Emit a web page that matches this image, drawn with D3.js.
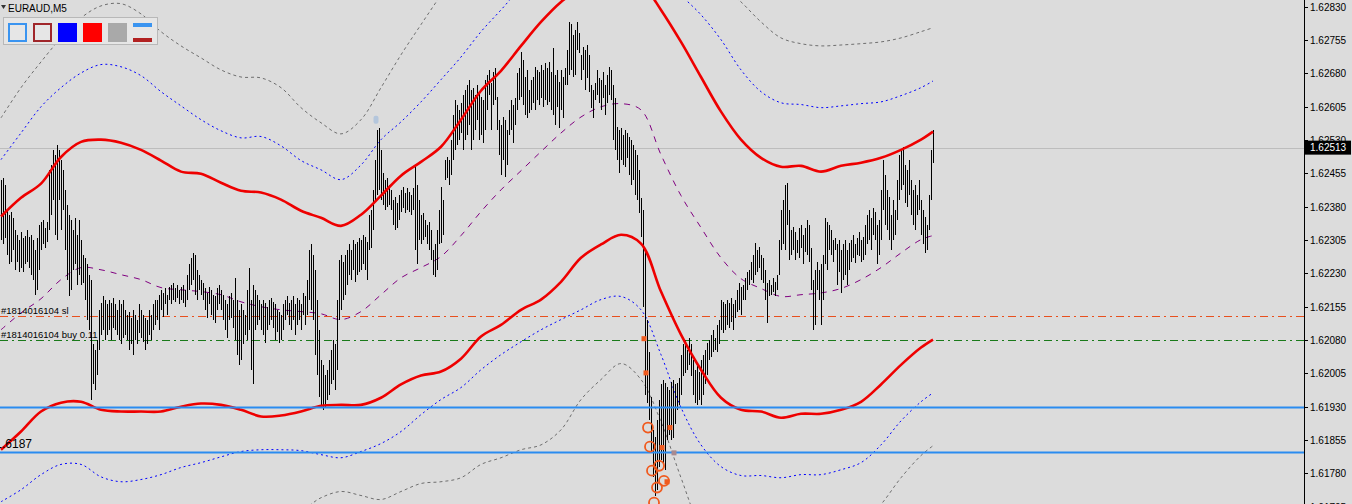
<!DOCTYPE html>
<html><head><meta charset="utf-8">
<script src="https://cdn.jsdelivr.net/npm/d3@7/dist/d3.min.js"></script>
<style>html,body{margin:0;padding:0;background:#dcdcdc;overflow:hidden}svg{display:block}</style>
</head><body><svg id="c" width="1352" height="504"></svg>
<script>
const symbolLabel = "EURAUD,M5";
const tickLabels = ["1.62830","1.62755","1.62680","1.62605","1.62530","1.62455","1.62380","1.62305","1.62230","1.62155","1.62080","1.62005","1.61930","1.61855","1.61780","1.61705"];
const currentPrice = 1.62513;

const HIGH = [
1.62441,1.62445,1.62430,1.62373,1.62362,1.62369,1.62355,1.62328,1.62317,1.62306,1.62324,1.62310,1.62315,1.62328,1.62312,1.62317,1.62306,1.62283,1.62310,1.62340,
1.62346,1.62351,1.62333,1.62346,1.62463,1.62474,1.62508,1.62497,1.62520,1.62508,1.62486,1.62463,1.62418,1.62384,1.62362,1.62351,1.62328,1.62355,1.62317,1.62351,
1.62306,1.62272,1.62265,1.62250,1.62227,1.62216,1.62070,1.62058,1.62081,1.62148,1.62164,1.62178,1.62171,1.62160,1.62171,1.62164,1.62175,1.62160,1.62148,1.62171,
1.62160,1.62171,1.62148,1.62137,1.62144,1.62130,1.62148,1.62137,1.62126,1.62160,1.62148,1.62137,1.62130,1.62126,1.62148,1.62137,1.62160,1.62171,1.62171,1.62182,
1.62193,1.62186,1.62198,1.62182,1.62200,1.62204,1.62209,1.62198,1.62204,1.62193,1.62200,1.62204,1.62193,1.62227,1.62250,1.62265,1.62276,1.62272,1.62238,1.62227,
1.62216,1.62209,1.62198,1.62186,1.62200,1.62193,1.62182,1.62178,1.62198,1.62204,1.62193,1.62182,1.62171,1.62160,1.62178,1.62186,1.62171,1.62220,1.62171,1.62148,
1.62160,1.62148,1.62137,1.62193,1.62243,1.62171,1.62204,1.62193,1.62182,1.62171,1.62160,1.62171,1.62164,1.62155,1.62171,1.62175,1.62166,1.62160,1.62148,1.62142,
1.62137,1.62160,1.62171,1.62178,1.62164,1.62171,1.62178,1.62160,1.62175,1.62171,1.62160,1.62186,1.62178,1.62216,1.62283,1.62295,1.62272,1.62238,1.62171,1.62103,
1.62036,1.62024,1.62002,1.62013,1.62036,1.62058,1.62081,1.62070,1.62171,1.62261,1.62272,1.62256,1.62272,1.62283,1.62295,1.62283,1.62306,1.62295,1.62301,1.62310,
1.62306,1.62317,1.62312,1.62301,1.62362,1.62373,1.62418,1.62486,1.62553,1.62558,1.62508,1.62456,1.62441,1.62445,1.62430,1.62418,1.62396,1.62402,1.62389,1.62407,
1.62418,1.62425,1.62412,1.62423,1.62414,1.62407,1.62423,1.62474,1.62430,1.62396,1.62362,1.62366,1.62351,1.62340,1.62346,1.62328,1.62283,1.62295,1.62328,1.62373,
1.62425,1.62396,1.62486,1.62492,1.62486,1.62531,1.62587,1.62621,1.62610,1.62598,1.62614,1.62632,1.62643,1.62654,1.62666,1.62643,1.62648,1.62632,1.62654,1.62639,
1.62627,1.62621,1.62666,1.62677,1.62688,1.62659,1.62684,1.62693,1.62627,1.62576,1.62564,1.62582,1.62576,1.62553,1.62598,1.62621,1.62610,1.62625,1.62681,1.62693,
1.62729,1.62711,1.62672,1.62688,1.62643,1.62666,1.62672,1.62695,1.62688,1.62684,1.62700,1.62688,1.62704,1.62693,1.62706,1.62684,1.62738,1.62677,1.62688,1.62661,
1.62688,1.62672,1.62693,1.62733,1.62796,1.62792,1.62767,1.62778,1.62796,1.62771,1.62722,1.62740,1.62733,1.62744,1.62722,1.62654,1.62643,1.62659,1.62688,1.62670,
1.62666,1.62684,1.62654,1.62677,1.62695,1.62688,1.62654,1.62625,1.62560,1.62553,1.62558,1.62542,1.62553,1.62546,1.62538,1.62531,1.62520,1.62508,1.62497,1.62463,
1.62400,1.62373,1.62283,1.62126,1.62052,1.61952,1.61878,1.61862,1.61901,1.61946,1.61980,1.61991,1.61984,1.61975,1.61968,1.61986,1.61991,1.61980,1.61984,1.61995,
1.62047,1.62070,1.62081,1.62058,1.62085,1.62070,1.62036,1.62013,1.62024,1.62009,1.62036,1.62047,1.62058,1.62074,1.62081,1.62092,1.62103,1.62085,1.62114,1.62126,
1.62171,1.62166,1.62160,1.62171,1.62164,1.62175,1.62160,1.62171,1.62193,1.62209,1.62200,1.62204,1.62220,1.62234,1.62238,1.62256,1.62272,1.62299,1.62283,1.62290,
1.62272,1.62265,1.62238,1.62209,1.62216,1.62204,1.62220,1.62211,1.62227,1.62306,1.62373,1.62396,1.62430,1.62434,1.62373,1.62328,1.62335,1.62324,1.62306,1.62333,
1.62340,1.62317,1.62333,1.62351,1.62340,1.62288,1.62216,1.62238,1.62256,1.62238,1.62250,1.62272,1.62355,1.62346,1.62340,1.62328,1.62306,1.62310,1.62295,1.62306,
1.62283,1.62295,1.62306,1.62283,1.62299,1.62306,1.62317,1.62295,1.62310,1.62322,1.62306,1.62312,1.62340,1.62362,1.62373,1.62355,1.62378,1.62369,1.62340,1.62351,
1.62418,1.62486,1.62452,1.62418,1.62402,1.62362,1.62396,1.62373,1.62441,1.62497,1.62508,1.62515,1.62474,1.62463,1.62486,1.62441,1.62418,1.62430,1.62407,1.62441,
1.62396,1.62373,1.62358,1.62340,1.62407,1.62508,1.62553
];
const LOW = [
1.62306,1.62295,1.62310,1.62272,1.62250,1.62256,1.62283,1.62238,1.62256,1.62234,1.62243,1.62232,1.62250,1.62256,1.62243,1.62227,1.62216,1.62182,1.62193,1.62238,
1.62283,1.62295,1.62288,1.62301,1.62328,1.62362,1.62396,1.62317,1.62306,1.62396,1.62328,1.62373,1.62283,1.62216,1.62178,1.62193,1.62238,1.62250,1.62204,1.62227,
1.62204,1.62209,1.62171,1.62126,1.62103,1.61946,1.61980,1.61968,1.62002,1.62058,1.62092,1.62103,1.62081,1.62092,1.62103,1.62081,1.62108,1.62103,1.62092,1.62081,
1.62070,1.62085,1.62092,1.62081,1.62058,1.62070,1.62047,1.62081,1.62070,1.62096,1.62085,1.62076,1.62058,1.62070,1.62092,1.62081,1.62103,1.62114,1.62126,1.62103,
1.62148,1.62132,1.62160,1.62137,1.62171,1.62160,1.62171,1.62166,1.62175,1.62160,1.62171,1.62164,1.62155,1.62171,1.62193,1.62204,1.62216,1.62182,1.62171,1.62193,
1.62182,1.62171,1.62148,1.62130,1.62160,1.62137,1.62126,1.62119,1.62148,1.62160,1.62148,1.62126,1.62103,1.62085,1.62126,1.62130,1.62108,1.62081,1.62047,1.62024,
1.62036,1.62070,1.62092,1.62081,1.62103,1.62013,1.61980,1.62103,1.62114,1.62126,1.62103,1.62092,1.62074,1.62103,1.62114,1.62126,1.62108,1.62081,1.62099,1.62074,
1.62081,1.62103,1.62126,1.62137,1.62114,1.62103,1.62126,1.62092,1.62114,1.62126,1.62103,1.62137,1.62114,1.62137,1.62171,1.62148,1.62126,1.62047,1.62002,1.61952,
1.61934,1.61923,1.61928,1.61946,1.61957,1.61980,1.61991,1.61968,1.62013,1.62126,1.62148,1.62171,1.62182,1.62204,1.62227,1.62216,1.62238,1.62211,1.62227,1.62234,
1.62238,1.62250,1.62238,1.62216,1.62283,1.62288,1.62328,1.62396,1.62407,1.62418,1.62396,1.62384,1.62373,1.62380,1.62384,1.62373,1.62340,1.62328,1.62333,1.62351,
1.62369,1.62378,1.62366,1.62373,1.62369,1.62362,1.62373,1.62283,1.62250,1.62306,1.62295,1.62306,1.62312,1.62295,1.62283,1.62261,1.62227,1.62222,1.62238,1.62295,
1.62299,1.62317,1.62441,1.62445,1.62430,1.62452,1.62486,1.62508,1.62520,1.62531,1.62546,1.62508,1.62531,1.62542,1.62564,1.62508,1.62531,1.62553,1.62576,1.62531,
1.62542,1.62524,1.62553,1.62598,1.62632,1.62553,1.62610,1.62621,1.62553,1.62497,1.62452,1.62486,1.62448,1.62474,1.62542,1.62553,1.62524,1.62564,1.62598,1.62621,
1.62627,1.62610,1.62587,1.62580,1.62591,1.62598,1.62614,1.62598,1.62621,1.62610,1.62625,1.62605,1.62621,1.62610,1.62616,1.62598,1.62587,1.62564,1.62605,1.62558,
1.62598,1.62580,1.62654,1.62654,1.62677,1.62688,1.62672,1.62677,1.62733,1.62726,1.62666,1.62688,1.62643,1.62670,1.62639,1.62603,1.62580,1.62621,1.62632,1.62614,
1.62598,1.62625,1.62587,1.62614,1.62632,1.62621,1.62531,1.62508,1.62486,1.62456,1.62486,1.62474,1.62470,1.62490,1.62452,1.62430,1.62441,1.62407,1.62396,1.62366,
1.62312,1.62155,1.61957,1.61939,1.61901,1.61826,1.61772,1.61728,1.61743,1.61795,1.61811,1.61804,1.61788,1.61856,1.61867,1.61856,1.61860,1.61890,1.61923,1.61934,
1.61957,1.61998,1.62006,1.62013,1.62024,1.61998,1.61957,1.61939,1.61934,1.61946,1.61934,1.61957,1.61980,1.62002,1.62036,1.62042,1.62052,1.62058,1.62054,1.62070,
1.62103,1.62096,1.62103,1.62114,1.62108,1.62121,1.62103,1.62130,1.62142,1.62148,1.62137,1.62171,1.62171,1.62193,1.62204,1.62216,1.62209,1.62227,1.62234,1.62243,
1.62216,1.62209,1.62171,1.62119,1.62178,1.62182,1.62189,1.62178,1.62193,1.62227,1.62283,1.62295,1.62283,1.62340,1.62261,1.62272,1.62283,1.62261,1.62276,1.62265,
1.62288,1.62250,1.62279,1.62272,1.62256,1.62193,1.62103,1.62114,1.62193,1.62171,1.62114,1.62171,1.62250,1.62238,1.62283,1.62272,1.62256,1.62283,1.62204,1.62232,
1.62186,1.62216,1.62227,1.62204,1.62238,1.62256,1.62265,1.62254,1.62272,1.62268,1.62256,1.62261,1.62272,1.62295,1.62306,1.62283,1.62317,1.62306,1.62250,1.62272,
1.62306,1.62373,1.62340,1.62328,1.62306,1.62283,1.62306,1.62317,1.62351,1.62396,1.62418,1.62430,1.62389,1.62380,1.62407,1.62362,1.62340,1.62328,1.62362,1.62373,
1.62317,1.62295,1.62276,1.62283,1.62328,1.62396,1.62479
];

// indicator lines, sampled at these bar indices
const bandIdx = [0,10,20,30,40,50,60,70,80,90,100,110,120,130,140,150,160,170,180,190,200,210,220,230,240,250,260,270,280,290,300,310,320,330,340,350,360,370,380,390,400,410,420,430,440,450,460,466];
const redUpper = [1.62358,1.62400,1.62432,1.62492,1.62526,1.62531,1.62524,1.62508,1.62484,1.62459,1.62454,1.62434,1.62416,1.62412,1.62396,1.62371,1.62355,1.62337,1.62362,1.62405,1.62450,1.62481,1.62515,1.62576,1.62641,1.62686,1.62742,1.62796,1.62841,1.62873,1.62909,1.62918,1.62886,1.62823,1.62751,1.62672,1.62594,1.62531,1.62490,1.62470,1.62472,1.62459,1.62472,1.62479,1.62490,1.62508,1.62531,1.62549];
const redLower = [1.61833,1.61874,1.61919,1.61939,1.61941,1.61923,1.61919,1.61919,1.61919,1.61930,1.61937,1.61934,1.61923,1.61908,1.61910,1.61919,1.61932,1.61934,1.61934,1.61950,1.61980,1.62000,1.62009,1.62038,1.62088,1.62114,1.62148,1.62171,1.62211,1.62265,1.62295,1.62317,1.62297,1.62189,1.62092,1.62013,1.61950,1.61923,1.61919,1.61905,1.61914,1.61914,1.61923,1.61941,1.61980,1.62024,1.62063,1.62081];
const middle = [1.62103,1.62141,1.62173,1.62216,1.62243,1.62238,1.62227,1.62216,1.62198,1.62193,1.62189,1.62182,1.62166,1.62155,1.62148,1.62144,1.62139,1.62126,1.62144,1.62182,1.62220,1.62243,1.62268,1.62315,1.62369,1.62418,1.62461,1.62504,1.62546,1.62582,1.62605,1.62612,1.62598,1.62497,1.62405,1.62333,1.62265,1.62218,1.62196,1.62178,1.62182,1.62186,1.62196,1.62216,1.62243,1.62276,1.62306,1.62315];
const blueUpper = [1.62486,1.62546,1.62605,1.62648,1.62681,1.62700,1.62695,1.62675,1.62639,1.62607,1.62576,1.62551,1.62535,1.62538,1.62517,1.62484,1.62463,1.62441,1.62474,1.62531,1.62571,1.62616,1.62666,1.62717,1.62774,1.62823,1.62873,1.62913,1.62954,1.62981,1.62992,1.63003,1.62970,1.62913,1.62857,1.62812,1.62756,1.62688,1.62639,1.62614,1.62610,1.62603,1.62607,1.62612,1.62616,1.62630,1.62648,1.62663];
const blueLower = [1.61716,1.61743,1.61777,1.61800,1.61800,1.61772,1.61761,1.61766,1.61777,1.61793,1.61804,1.61817,1.61829,1.61833,1.61833,1.61831,1.61822,1.61815,1.61829,1.61847,1.61874,1.61912,1.61946,1.61973,1.62013,1.62047,1.62076,1.62103,1.62126,1.62148,1.62171,1.62178,1.62148,1.62047,1.61928,1.61844,1.61795,1.61775,1.61775,1.61770,1.61777,1.61777,1.61788,1.61804,1.61844,1.61898,1.61941,1.61961];
const grayUpper = [1.62580,1.62648,1.62706,1.62760,1.62805,1.62832,1.62837,1.62814,1.62774,1.62742,1.62715,1.62688,1.62672,1.62670,1.62648,1.62603,1.62569,1.62544,1.62576,1.62648,1.62722,1.62790,1.62857,1.62925,1.62981,1.63037,1.63082,1.63127,1.63161,1.63183,1.63195,1.63206,1.63172,1.63093,1.63003,1.62936,1.62880,1.62841,1.62796,1.62760,1.62747,1.62742,1.62744,1.62747,1.62751,1.62760,1.62774,1.62783];
const grayLower = [1.61563,1.61586,1.61604,1.61620,1.61620,1.61608,1.61604,1.61620,1.61642,1.61665,1.61685,1.61694,1.61698,1.61703,1.61703,1.61698,1.61725,1.61739,1.61730,1.61721,1.61739,1.61757,1.61761,1.61770,1.61800,1.61815,1.61833,1.61844,1.61878,1.61946,1.61991,1.62027,1.61991,1.61896,1.61770,1.61653,1.61586,1.61575,1.61586,1.61597,1.61608,1.61613,1.61631,1.61665,1.61710,1.61770,1.61820,1.61842];

// horizontal levels
const supportLevels = [1.61928, 1.61827];
const orderLevels = [
  {label: "#1814016104 sl", price: 1.62133, color: "#e8501e"},
  {label: "#1814016104 buy 0.11", price: 1.62079, color: "#1a7a1a"}
];
const sideLabel = {text: "1.6187", price: 1.61848};

// trade markers (bar index, price)
const squareIdx = [321.5, 322.5, 334.5, 330.5, 333];
const squarePrice = [1.62083, 1.62006, 1.61883, 1.61838, 1.61761];
const graySquareIdx = [336.5];
const graySquarePrice = [1.61826];
const circleIdx = [323.5, 324.5, 329, 325.5, 331.5, 328, 326.5];
const circlePrice = [1.61883, 1.61840, 1.61797, 1.61786, 1.61763, 1.61748, 1.61714];
const arrowIdx = [187.5];
const arrowPrice = [1.62576];

const legendColors = [
  {type: "outline", color: "#3a94f0"},
  {type: "outline", color: "#a0262a"},
  {type: "fill", color: "#0000ff"},
  {type: "fill", color: "#ff0000"},
  {type: "fill", color: "#a9a9a9"},
  {type: "bars", top: "#3a94f0", bottom: "#b22222"}
];

const W = 1352, H = 504, axisX = 1304;
const svg = d3.select("#c");
const font = "'Liberation Sans', Arial, sans-serif";

const x = d3.scaleLinear().domain([0, 651.5]).range([1, axisX]);
const y = d3.scaleLinear().domain([1.62830, 1.61780]).range([6.8, 473.3]);

svg.append("rect").attr("width", W).attr("height", H).attr("fill", "#dcdcdc");

const plot = svg.append("g").attr("clip-path", "url(#clip)");
svg.append("clipPath").attr("id", "clip").append("rect").attr("x", 0).attr("y", 0).attr("width", axisX).attr("height", H);

// current price line
plot.append("line").attr("x1", 0).attr("x2", axisX).attr("y1", Math.round(y(currentPrice)) + 0.5).attr("y2", Math.round(y(currentPrice)) + 0.5)
  .attr("stroke", "#bdbdbd").attr("stroke-width", 1);

// band lines
const bandLine = arr => d3.line().x((d, i) => x(bandIdx[i])).y(d => y(d)).curve(d3.curveCatmullRom.alpha(0.5))(arr);
plot.append("path").attr("d", bandLine(grayUpper)).attr("fill", "none").attr("stroke", "#6e6e6e").attr("stroke-width", 1).attr("stroke-dasharray", "3,3");
plot.append("path").attr("d", bandLine(grayLower)).attr("fill", "none").attr("stroke", "#6e6e6e").attr("stroke-width", 1).attr("stroke-dasharray", "3,3");
plot.append("path").attr("d", bandLine(blueUpper)).attr("fill", "none").attr("stroke", "#0000ff").attr("stroke-width", 1).attr("stroke-dasharray", "2,3");
plot.append("path").attr("d", bandLine(blueLower)).attr("fill", "none").attr("stroke", "#0000ff").attr("stroke-width", 1).attr("stroke-dasharray", "2,3");
plot.append("path").attr("d", bandLine(middle)).attr("fill", "none").attr("stroke", "#800080").attr("stroke-width", 1).attr("stroke-dasharray", "6,6");

// order level lines
orderLevels.forEach(o => {
  const yy = Math.round(y(o.price)) + 0.5;
  plot.append("line").attr("x1", 0).attr("x2", axisX).attr("y1", yy).attr("y2", yy)
    .attr("stroke", o.color).attr("stroke-width", 1).attr("stroke-dasharray", "8,4,2,4");
  svg.append("text").attr("x", 1).attr("y", yy - 3).text(o.label)
    .attr("font-family", font).attr("font-size", "9.5px").attr("fill", "#000");
});

// bars
plot.append("g").selectAll("line").data(HIGH).join("line")
  .attr("x1", (d, i) => Math.round(x(i)) + 0.5).attr("x2", (d, i) => Math.round(x(i)) + 0.5)
  .attr("y1", d => y(d)).attr("y2", (d, i) => y(LOW[i]))
  .attr("stroke", "#000").attr("stroke-width", 1).attr("shape-rendering", "crispEdges");

// red bands
plot.append("path").attr("d", bandLine(redUpper)).attr("fill", "none").attr("stroke", "#ee0000").attr("stroke-width", 2.6);
plot.append("path").attr("d", bandLine(redLower)).attr("fill", "none").attr("stroke", "#ee0000").attr("stroke-width", 2.6);

// support lines
supportLevels.forEach(p => {
  plot.append("line").attr("x1", 0).attr("x2", axisX).attr("y1", y(p)).attr("y2", y(p))
    .attr("stroke", "#2a8cf0").attr("stroke-width", 2);
});

// markers
plot.append("g").selectAll("circle").data(circleIdx).join("circle")
  .attr("cx", d => x(d)).attr("cy", (d, i) => y(circlePrice[i])).attr("r", 5)
  .attr("fill", "none").attr("stroke", "#f05a1e").attr("stroke-width", 1.8);
plot.append("g").selectAll("rect").data(squareIdx).join("rect")
  .attr("x", d => x(d) - 2.5).attr("y", (d, i) => y(squarePrice[i]) - 2.5).attr("width", 5).attr("height", 5)
  .attr("fill", "#f05a1e");
plot.append("g").selectAll("rect").data(graySquareIdx).join("rect")
  .attr("x", d => x(d) - 2.5).attr("y", (d, i) => y(graySquarePrice[i]) - 2.5).attr("width", 5).attr("height", 5)
  .attr("fill", "#a88a90");
plot.append("g").selectAll("rect").data(arrowIdx).join("rect")
  .attr("x", d => x(d) - 2.5).attr("y", (d, i) => y(arrowPrice[i]) - 4).attr("width", 5).attr("height", 8).attr("rx", 2)
  .attr("fill", "#b4c6dc");

// side label (partly outside the left edge, as in the original)
svg.append("text").attr("x", 32).attr("y", y(sideLabel.price) + 5).attr("text-anchor", "end").text(sideLabel.text)
  .attr("font-family", font).attr("font-size", "12px").attr("fill", "#000");

// axis
svg.append("line").attr("x1", axisX + 0.5).attr("x2", axisX + 0.5).attr("y1", 0).attr("y2", H).attr("stroke", "#000");
const ticks = svg.append("g");
tickLabels.forEach(t => {
  const v = +t, yy = Math.round(y(v)) + 0.5;
  ticks.append("line").attr("x1", axisX).attr("x2", axisX + 4).attr("y1", yy).attr("y2", yy).attr("stroke", "#000");
  ticks.append("text").attr("x", axisX + 6).attr("y", yy).attr("dy", "0.35em").text(t)
    .attr("font-family", font).attr("font-size", "10px").attr("fill", "#000");
});
// current price box
const cy = y(currentPrice);
svg.append("rect").attr("x", axisX + 1).attr("y", cy - 7).attr("width", 46).attr("height", 14).attr("fill", "#000");
svg.append("text").attr("x", axisX + 6).attr("y", cy).attr("dy", "0.35em").text(d3.format(".5f")(currentPrice))
  .attr("font-family", font).attr("font-size", "10px").attr("fill", "#fff");

// title
svg.append("path").attr("d", "M1,5 L6,5 L3.5,9 Z").attr("fill", "#333");
svg.append("text").attr("x", 8).attr("y", 12).text(symbolLabel).attr("font-family", font).attr("font-size", "10px").attr("fill", "#000");

// legend panel
const lg = svg.append("g");
lg.append("rect").attr("x", 3.5).attr("y", 17.5).attr("width", 154).attr("height", 27).attr("fill", "#e6e6e6").attr("stroke", "#b8b8b8");
legendColors.forEach((c, i) => {
  const lx = 8 + i * 25;
  if (c.type === "outline") {
    lg.append("rect").attr("x", lx + 1).attr("y", 24).attr("width", 17).attr("height", 17).attr("fill", "none").attr("stroke", c.color).attr("stroke-width", 2);
  } else if (c.type === "fill") {
    lg.append("rect").attr("x", lx).attr("y", 23).attr("width", 19).attr("height", 19).attr("fill", c.color);
  } else {
    lg.append("rect").attr("x", lx).attr("y", 23).attr("width", 19).attr("height", 4).attr("fill", c.top);
    lg.append("rect").attr("x", lx).attr("y", 38).attr("width", 19).attr("height", 4).attr("fill", c.bottom);
  }
});
</script></body></html>
